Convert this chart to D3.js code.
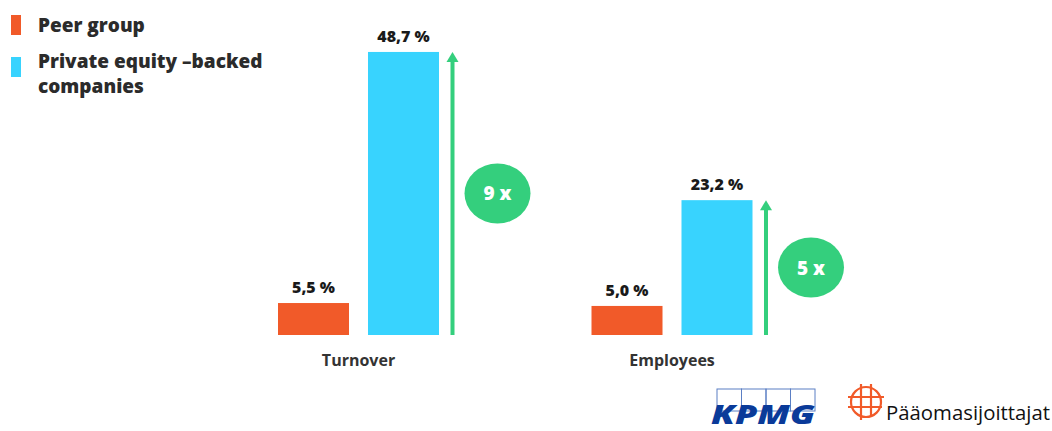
<!DOCTYPE html>
<html>
<head>
<meta charset="utf-8">
<script src="https://cdn.jsdelivr.net/npm/d3@7"></script>
<style>
  body { margin: 0; background: #fff; }
  text { font-family: "Open Sans", Lato, sans-serif; }
</style>
</head>
<body>
<script>
// Chart data
var categories = ["Turnover", "Employees"];
var series = ["Peer group", "Private equity \u2013backed companies"];
var peerValues = [5.5, 5.0];
var peValues = [48.7, 23.2];
var multipliers = ["9 x", "5 x"];

var width = 1052, height = 431;
var colors = { "Peer group": "#f15a29", "Private equity \u2013backed companies": "#38d3fe" };
var green = "#34cf7d";

var svg = d3.select("body").append("svg")
  .attr("width", width)
  .attr("height", height);

// scales
var y = d3.scaleLinear().domain([0, 50]).range([335, 44.4]);
var x0 = d3.scalePoint().domain(categories).range([358.5, 672]);
var x1 = d3.scaleBand().domain(series).range([-80.5, 80.5]).paddingInner(0.211);

var rows = categories.map(function (c, i) {
  return { cat: c, vals: [peerValues[i], peValues[i]], mult: multipliers[i] };
});

var groups = svg.selectAll("g.cat")
  .data(rows)
  .enter().append("g")
  .attr("class", "cat")
  .attr("transform", function (d) { return "translate(" + x0(d.cat) + ",0)"; });

// bars
groups.selectAll("rect")
  .data(function (d) { return d.vals.map(function (v, j) { return { s: series[j], v: v }; }); })
  .enter().append("rect")
  .attr("x", function (d) { return x1(d.s); })
  .attr("y", function (d) { return y(d.v); })
  .attr("width", x1.bandwidth())
  .attr("height", function (d) { return y(0) - y(d.v); })
  .attr("fill", function (d) { return colors[d.s]; });

// value labels
groups.selectAll("text.val")
  .data(function (d) { return d.vals.map(function (v, j) { return { s: series[j], v: v }; }); })
  .enter().append("text")
  .attr("class", "val")
  .attr("x", function (d) { return x1(d.s) + x1.bandwidth() / 2; })
  .attr("y", function (d) { return y(d.v) - 10; })
  .attr("text-anchor", "middle")
  .attr("font-size", 16)
  .attr("font-weight", 800)
  .attr("fill", "#1a1a1a")
  .text(function (d) { return d3.format(".1f")(d.v).replace(".", ",") + " %"; });

// category labels
groups.append("text")
  .attr("x", 0)
  .attr("y", 366)
  .attr("text-anchor", "middle")
  .attr("font-size", 16)
  .attr("font-weight", 700)
  .attr("fill", "#333")
  .text(function (d) { return d.cat; });

// green arrows
var arrowX = 94;
groups.append("line")
  .attr("x1", arrowX).attr("x2", arrowX)
  .attr("y1", y(0))
  .attr("y2", function (d) { return y(d.vals[1]) + 8; })
  .attr("stroke", green)
  .attr("stroke-width", 4);
groups.append("path")
  .attr("d", function (d) {
    var t = y(d.vals[1]);
    return "M" + (arrowX - 6) + "," + (t + 10) + "L" + arrowX + "," + t + "L" + (arrowX + 6) + "," + (t + 10) + "Z";
  })
  .attr("fill", green);

// multiplier bubbles
groups.append("ellipse")
  .attr("cx", 139)
  .attr("cy", function (d) { return (y(0) + y(d.vals[1])) / 2; })
  .attr("rx", 33)
  .attr("ry", 30)
  .attr("fill", green);
groups.append("text")
  .attr("x", 139)
  .attr("y", function (d) { return (y(0) + y(d.vals[1])) / 2 + 7; })
  .attr("text-anchor", "middle")
  .attr("font-size", 19)
  .attr("font-weight", 800)
  .attr("fill", "#fff")
  .text(function (d) { return d.mult; });

// legend
var legend = svg.append("g");
legend.append("rect").attr("x", 11).attr("y", 15).attr("width", 10).attr("height", 20).attr("fill", colors[series[0]]);
legend.append("rect").attr("x", 11).attr("y", 57).attr("width", 10).attr("height", 20).attr("fill", colors[series[1]]);
legend.append("text").attr("x", 38).attr("y", 32)
  .attr("font-size", 19).attr("font-weight", 800).attr("fill", "#2b2b2b")
  .text(series[0]);
var lt = legend.append("text").attr("x", 38).attr("y", 68)
  .attr("font-size", 19).attr("font-weight", 800).attr("fill", "#2b2b2b");
lt.append("tspan").attr("x", 38).text("Private equity \u2013backed");
lt.append("tspan").attr("x", 38).attr("dy", 25).text("companies");

// KPMG logo
var kpmg = svg.append("g");
[0, 1, 2, 3].forEach(function (i) {
  kpmg.append("rect")
    .attr("x", 717 + i * 24.5).attr("y", 389)
    .attr("width", 24.5).attr("height", 22)
    .attr("fill", "none").attr("stroke", "#5b7fc4").attr("stroke-width", 1);
});
kpmg.append("text")
  .attr("x", 711).attr("y", 424)
  .attr("font-size", 27).attr("font-weight", 800).attr("font-style", "italic")
  .attr("textLength", 104).attr("lengthAdjust", "spacingAndGlyphs")
  .attr("fill", "#0a3a99")
  .text("KPMG");

// Pääomasijoittajat logo
var pl = svg.append("g").attr("stroke", "#f15a29").attr("stroke-width", 2.2).attr("fill", "none");
pl.append("circle").attr("cx", 866).attr("cy", 402).attr("r", 15);
pl.append("line").attr("x1", 861).attr("x2", 861).attr("y1", 384).attr("y2", 420);
pl.append("line").attr("x1", 871).attr("x2", 871).attr("y1", 384).attr("y2", 417);
pl.append("line").attr("x1", 848).attr("x2", 884).attr("y1", 397).attr("y2", 397);
pl.append("line").attr("x1", 848).attr("x2", 882).attr("y1", 407).attr("y2", 407);
svg.append("text")
  .attr("x", 886).attr("y", 420)
  .attr("font-size", 20).attr("font-weight", 500)
  .attr("textLength", 164).attr("lengthAdjust", "spacingAndGlyphs")
  .attr("fill", "#111")
  .text("P\u00e4\u00e4omasijoittajat");
</script>
</body>
</html>
